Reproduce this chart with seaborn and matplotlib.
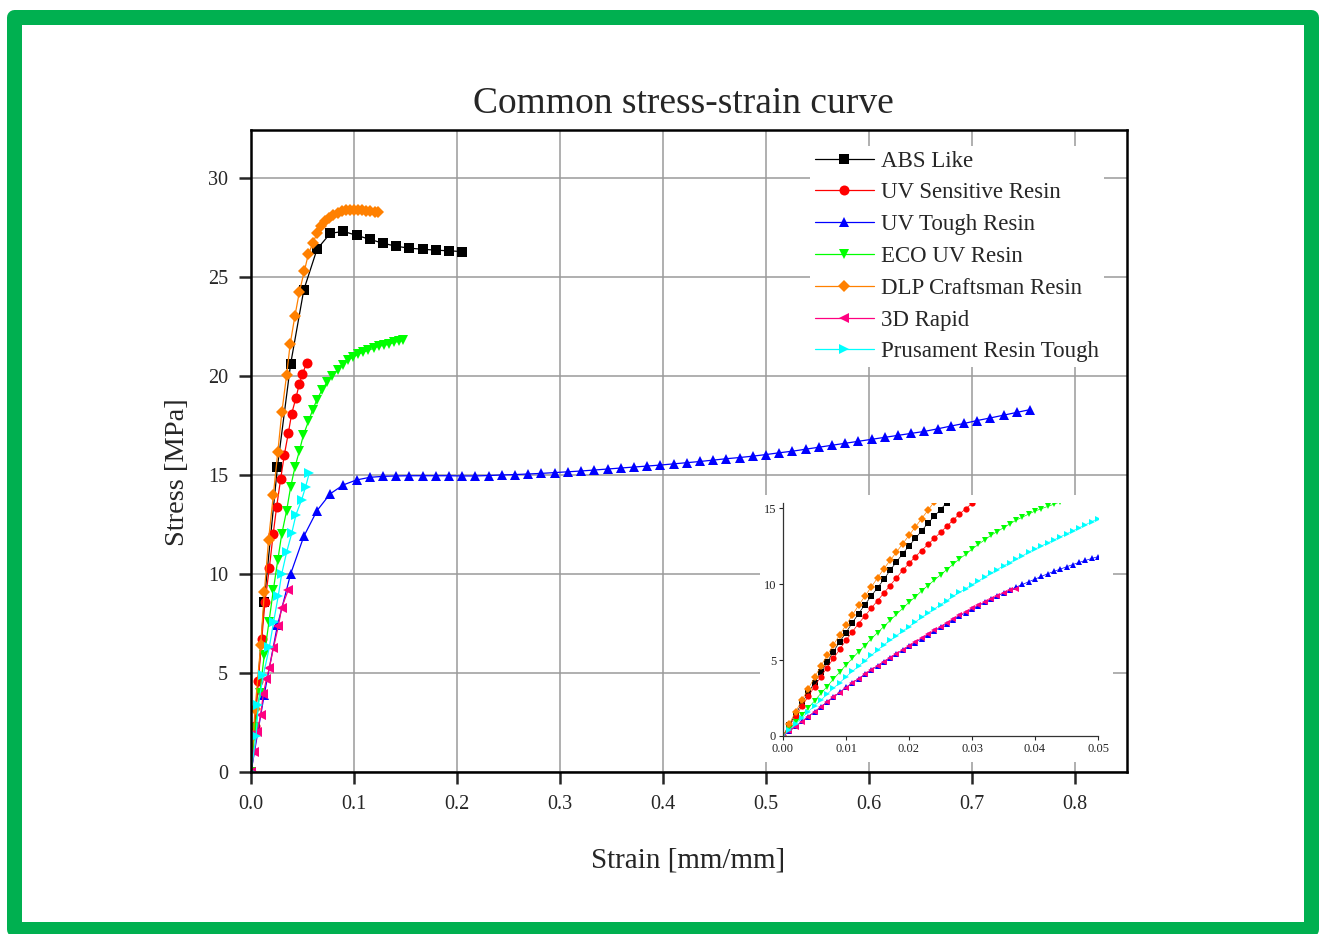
import matplotlib
matplotlib.use("Agg")
import numpy as np
import pandas as pd
from matplotlib import pyplot as plt
from matplotlib.patches import Rectangle
import seaborn as sns

# series names, colours, markers (legend order)
names = ["ABS Like", "UV Sensitive Resin", "UV Tough Resin", "ECO UV Resin",
         "DLP Craftsman Resin", "3D Rapid", "Prusament Resin Tough"]
colors = ["#000000", "#ff0000", "#0000ff", "#00ff00", "#ff8000", "#ff0080", "#00ffff"]
markers = ["s", "o", "^", "v", "D", "<", ">"]

# ---- main plot data (strain, stress MPa) ----
abs_step = 0.01282
abs_y = [0, 8.6, 15.4, 20.6, 24.35, 26.4, 27.2, 27.3, 27.1, 26.9, 26.7, 26.55,
         26.45, 26.4, 26.35, 26.32, 26.28]

red_x = [0, 0.0035, 0.0071, 0.0104, 0.0136, 0.0178, 0.0215, 0.0249, 0.0288,
         0.0323, 0.0362, 0.0395, 0.0437, 0.0469, 0.050, 0.054]
red_y = [0, 2.3, 4.6, 6.7, 8.6, 10.3, 12.0, 13.4, 14.8, 16.0, 17.1, 18.1, 18.9,
         19.6, 20.1, 20.65]

tough_step = 0.01282
tough_y = [0, 3.9, 7.4, 10.0, 11.9, 13.2, 14.05, 14.5, 14.75, 14.88, 14.93,
           14.95, 14.96, 14.96, 14.96, 14.96, 14.95, 14.95, 14.97,
           15.0, 15.02, 15.05, 15.08, 15.12, 15.16, 15.2, 15.25, 15.3, 15.35,
           15.4, 15.45, 15.5, 15.56, 15.62, 15.68, 15.75, 15.82, 15.88, 15.95,
           16.03, 16.12, 16.2, 16.3, 16.4, 16.5, 16.6, 16.7, 16.8, 16.9, 17.0,
           17.1, 17.2, 17.33, 17.47, 17.6, 17.75, 17.88, 18.02, 18.16, 18.3]

eco_x = [0, 0.0039, 0.0085, 0.0129, 0.0175, 0.0217, 0.026, 0.0298, 0.0346,
         0.0385, 0.0427, 0.0469, 0.0508, 0.0557, 0.060, 0.064, 0.069, 0.074,
         0.079, 0.084, 0.089, 0.094, 0.099, 0.104, 0.109, 0.114, 0.119, 0.124,
         0.129, 0.134, 0.139, 0.144, 0.148]
eco_y = [0, 2.2, 4.0, 5.9, 7.6, 9.2, 10.7, 12.0, 13.2, 14.4, 15.4, 16.2, 17.0,
         17.7, 18.3, 18.8, 19.3, 19.7, 20.0, 20.3, 20.55, 20.8, 20.95, 21.1,
         21.2, 21.3, 21.4, 21.5, 21.55, 21.6, 21.7, 21.75, 21.8]

dlp_x = [0, 0.004, 0.0094, 0.013, 0.017, 0.0217, 0.026, 0.030, 0.0346, 0.038,
         0.0427, 0.047, 0.0518, 0.0557, 0.060, 0.064, 0.068, 0.072, 0.076,
         0.080, 0.084, 0.088, 0.092, 0.096, 0.100, 0.104, 0.108, 0.112, 0.116,
         0.120, 0.123]
dlp_y = [0, 3.2, 6.4, 9.1, 11.7, 14.0, 16.15, 18.2, 20.05, 21.6, 23.05, 24.25,
         25.3, 26.15, 26.7, 27.2, 27.55, 27.8, 28.0, 28.15, 28.25, 28.33, 28.38,
         28.4, 28.4, 28.4, 28.38, 28.35, 28.33, 28.3, 28.28]

rapid_x = [0, 0.003, 0.006, 0.0094, 0.012, 0.015, 0.0178, 0.0217, 0.0265,
           0.0298, 0.0362]
rapid_y = [0, 1.0, 2.0, 2.9, 3.95, 4.7, 5.25, 6.25, 7.35, 8.3, 9.2]

prus_x = [0, 0.0049, 0.0071, 0.012, 0.0178, 0.022, 0.0265, 0.0298, 0.0346,
          0.0395, 0.0437, 0.0492, 0.053, 0.0566]
prus_y = [0, 1.8, 3.4, 4.9, 6.3, 7.6, 8.9, 10.0, 11.1, 12.05, 13.0, 13.75,
          14.4, 15.1]

# ---- inset data, sampled every 0.001 strain ----
inset_step = 0.001
in_abs = [0, 0.72, 1.45, 2.15, 2.85, 3.5, 4.2, 4.85, 5.55, 6.2, 6.8, 7.45, 8.05,
          8.65, 9.2, 9.75, 10.3, 10.9, 11.45, 12.0, 12.5, 13.0, 13.5, 14.0,
          14.45, 14.9, 15.35]
in_red = [0, 0.65, 1.3, 1.95, 2.6, 3.25, 3.9, 4.5, 5.1, 5.7, 6.3, 6.85, 7.4,
          7.9, 8.4, 8.9, 9.4, 9.9, 10.4, 10.9, 11.35, 11.8, 12.2, 12.6, 13.0,
          13.4, 13.8, 14.2, 14.6, 14.95, 15.3]
in_tough = [0, 0.32, 0.64, 0.96, 1.28, 1.6, 1.92, 2.24, 2.56, 2.88, 3.2, 3.5,
            3.78, 4.06, 4.34, 4.62, 4.9, 5.15, 5.4, 5.65, 5.9, 6.15, 6.4, 6.65,
            6.9, 7.15, 7.4, 7.65, 7.9, 8.1, 8.35, 8.55, 8.8, 9.0, 9.2, 9.4, 9.6,
            9.8, 9.97, 10.15, 10.32, 10.5, 10.67, 10.83, 10.98, 11.13, 11.28,
            11.42, 11.55, 11.68, 11.8]
in_eco = [0, 0.45, 0.9, 1.35, 1.85, 2.3, 2.8, 3.25, 3.75, 4.2, 4.67, 5.1, 5.55,
          5.95, 6.4, 6.8, 7.2, 7.6, 8.0, 8.4, 8.8, 9.15, 9.55, 9.9, 10.25, 10.6,
          10.95, 11.3, 11.65, 11.95, 12.3, 12.6, 12.9, 13.2, 13.45, 13.7, 13.95,
          14.2, 14.4, 14.6, 14.8, 14.95, 15.1, 15.25, 15.4]
in_dlp = [0, 0.8, 1.6, 2.35, 3.1, 3.85, 4.6, 5.3, 6.0, 6.65, 7.3, 7.95, 8.6,
          9.2, 9.8, 10.4, 11.0, 11.55, 12.1, 12.65, 13.2, 13.75, 14.3, 14.85,
          15.4]
in_rapid = [0, 0.3, 0.62, 0.94, 1.26, 1.58, 1.9, 2.22, 2.54, 2.86, 3.18, 3.48,
            3.77, 4.06, 4.34, 4.62, 4.9, 5.16, 5.42, 5.68, 5.94, 6.2, 6.45, 6.7,
            6.95, 7.2, 7.45, 7.7, 7.95, 8.17, 8.4, 8.6, 8.82, 9.03, 9.23, 9.43,
            9.6, 9.7]
in_prus = [0, 0.4, 0.8, 1.2, 1.6, 2.0, 2.35, 2.75, 3.15, 3.5, 3.9, 4.25, 4.6,
           4.95, 5.3, 5.65, 6.0, 6.3, 6.6, 6.9, 7.2, 7.5, 7.8, 8.1, 8.35, 8.65,
           8.9, 9.2, 9.45, 9.7, 9.95, 10.2, 10.45, 10.7, 10.95, 11.2, 11.4,
           11.65, 11.85, 12.1, 12.3, 12.5, 12.7, 12.9, 13.1, 13.3, 13.5, 13.7,
           13.9, 14.1, 14.3]


def steps(ys, step):
    return [i * step for i in range(len(ys))]


main_series = [
    (steps(abs_y, abs_step), abs_y),
    (red_x, red_y),
    (steps(tough_y, tough_step), tough_y),
    (eco_x, eco_y),
    (dlp_x, dlp_y),
    (rapid_x, rapid_y),
    (prus_x, prus_y),
]
inset_series = [in_abs, in_red, in_tough, in_eco, in_dlp, in_rapid, in_prus]

sns.set_style("white")
plt.rcParams["font.family"] = ["Liberation Serif", "DejaVu Serif"]

W, H = 1320, 934
fig = plt.figure(figsize=(W / 100, H / 100), dpi=100)


def fx(px):
    return px / W


def fy(py):
    return 1 - py / H


ax = fig.add_axes([fx(251), fy(772), fx(1127) - fx(251), fy(130) - fy(772)])

for (xs, ys), name, c, m in zip(main_series, names, colors, markers):
    df = pd.DataFrame({"x": xs, "y": ys})
    ms = 6.5 if m == "D" else 7.2
    sns.lineplot(data=df, x="x", y="y", ax=ax, color=c, marker=m, markersize=ms,
                 markeredgewidth=0, linewidth=0.9, label=name, sort=False,
                 estimator=None)

ax.set_xlim(0, 0.8505)
ax.set_ylim(0, 32.42)
ax.set_xticks(np.arange(0, 0.81, 0.1))
ax.set_yticks(np.arange(0, 31, 5))
ax.set_xticklabels([f"{v:.1f}" for v in np.arange(0, 0.81, 0.1)])
ax.set_yticklabels([f"{int(v)}" for v in np.arange(0, 31, 5)])
ax.grid(True, color="#9a9a9a", linewidth=1.1)
ax.set_axisbelow(True)
for s in ax.spines.values():
    s.set_linewidth(1.8)
    s.set_color("black")
ax.tick_params(direction="out", length=8.5, width=1.8, labelsize=14.5, pad=8,
               bottom=True, left=True, top=False, right=False)
ax.set_xlabel("")
ax.set_ylabel("")

handles, labels = ax.get_legend_handles_labels()
leg = ax.legend(handles, labels, loc="upper left",
                bbox_to_anchor=(fx(810), fy(146)), bbox_transform=fig.transFigure,
                frameon=True, fontsize=16.5, handlelength=2.6, handletextpad=0.3,
                labelspacing=0.47, borderpad=0.2, borderaxespad=0, numpoints=1)
leg.get_frame().set_facecolor("white")
leg.get_frame().set_edgecolor("none")
leg.get_frame().set_alpha(1)

# white patch behind inset
bg = fig.add_axes([fx(760), fy(762), fx(1113) - fx(760), fy(495) - fy(762)])
bg.set_facecolor("white")
bg.set_xticks([])
bg.set_yticks([])
for s in bg.spines.values():
    s.set_visible(False)

ins = fig.add_axes([fx(783), fy(736), fx(1098) - fx(783), fy(503) - fy(736)])
for ys, c, m in zip(inset_series, colors, markers):
    df = pd.DataFrame({"x": steps(ys, inset_step), "y": ys})
    sns.lineplot(data=df, x="x", y="y", ax=ins, color=c, marker=m, markersize=4.5,
                 markeredgewidth=0, linewidth=0.5, sort=False, estimator=None)
ins.set_xlim(0, 0.05)
ins.set_ylim(0, 15.33)
ins.set_xticks([0, 0.01, 0.02, 0.03, 0.04, 0.05])
ins.set_xticklabels(["0.00", "0.01", "0.02", "0.03", "0.04", "0.05"])
ins.set_yticks([0, 5, 10, 15])
ins.set_yticklabels(["0", "5", "10", "15"])
ins.set_xlabel("")
ins.set_ylabel("")
ins.spines["top"].set_visible(False)
ins.spines["right"].set_visible(False)
for k in ["left", "bottom"]:
    ins.spines[k].set_linewidth(0.9)
    ins.spines[k].set_color("#333333")
ins.tick_params(direction="out", length=3, width=0.8, labelsize=9, pad=2,
                bottom=True, left=True)

fig.text(fx(683), fy(104), "Common stress-strain curve", ha="center", va="center",
         fontsize=27)
fig.text(fx(688), fy(860), "Strain [mm/mm]", ha="center", va="center", fontsize=21)
fig.text(fx(177), fy(472), "Stress [MPa]", ha="center", va="center", fontsize=20.5,
         rotation=90)

# green frame
fig.add_artist(Rectangle((fx(14), fy(929)), fx(1311) - fx(14), fy(17) - fy(929),
                         transform=fig.transFigure, fill=False,
                         edgecolor="#00b050", linewidth=10.8, joinstyle="round"))

fig.savefig("out.png", dpi=100, facecolor="white")
